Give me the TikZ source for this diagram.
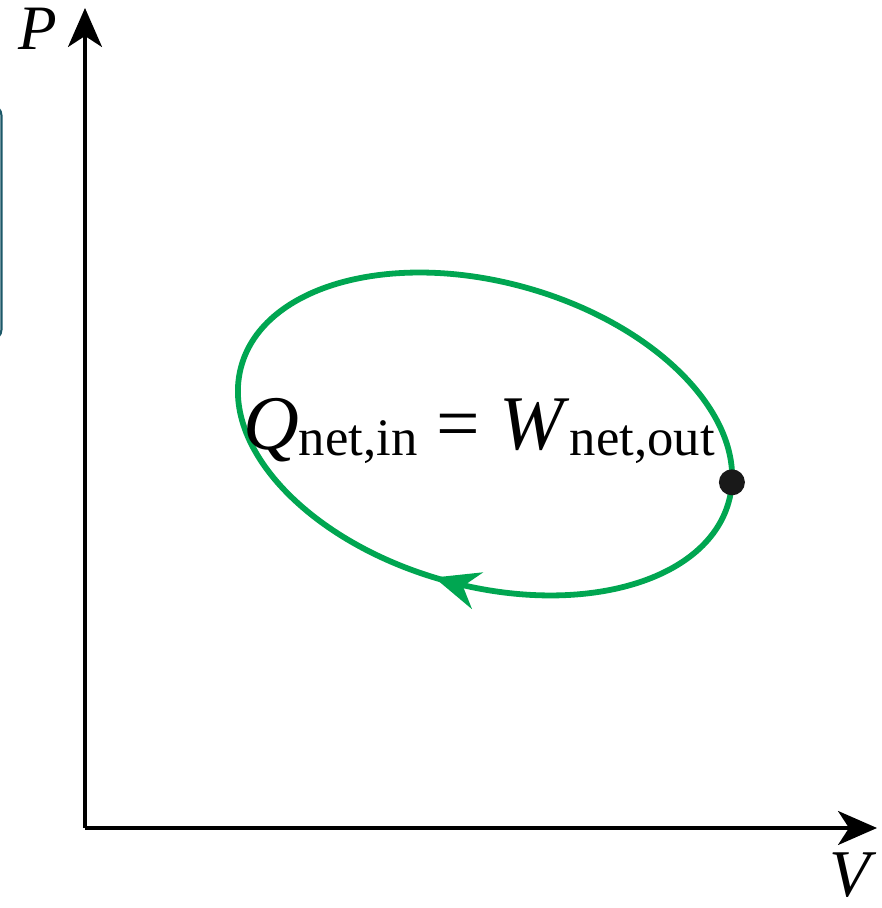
\documentclass[tikz,border=0pt]{standalone}
\usepackage{fontspec}
\setmainfont{Liberation Serif}
\usetikzlibrary{arrows.meta,decorations.markings}
\definecolor{cyc}{RGB}{0,166,81}
\definecolor{tab}{RGB}{28,88,104}
\newcommand{\sub}[1]{\raisebox{-3pt}{\fontsize{30}{30}\selectfont #1}}

\begin{document}
\begin{tikzpicture}[x=0.02cm,y=0.02cm,
  axis/.style={line width=1.9pt,-{Stealth[length=0.78cm,width=0.68cm,inset=0.22cm]}},
  loop/.style={cyc,line width=3.3pt},
  lbl/.style={font=\fontsize{36}{40}\selectfont\itshape},
  state/.style={circle,fill=black!90,inner sep=0pt,minimum size=0.52cm}]
\useasboundingbox (0,0) rectangle (881,908);
% edge of the next panel
\draw[tab,line width=1.2pt,rounded corners=6pt] (-40,568) rectangle (1.5,803);
% axes
\coordinate (o) at (85,80);
\coordinate (ptop) at (85,900);
\coordinate (vend) at (877,80);
\draw[axis] (o) -- (ptop);
\draw[axis] (o) -- (vend);
\node[lbl] (p) at (38,879) {P};
\node[lbl,font=\fontsize{38}{42}\selectfont\itshape,inner sep=0pt,anchor=south] (v) at (850,10) {V};
% cycle
\begin{scope}[shift={(485,474)},rotate=-15.6]
\draw[loop,postaction={decorate},decoration={markings,
  mark=at position 0.742 with {\arrowreversed{Stealth[length=0.9cm,width=0.76cm,inset=0.3cm]}}}]
  (0,0) ellipse [x radius=253,y radius=152];
\node[state] (s1) at (7.5:253 and 152) {};
\end{scope}
\node[font=\fontsize{44}{50}\selectfont,anchor=base] (eq) at (479,458)
  {\textit{Q}\sub{net,in} = \textit{W}\sub{net,out}};
\end{tikzpicture}
\end{document}
